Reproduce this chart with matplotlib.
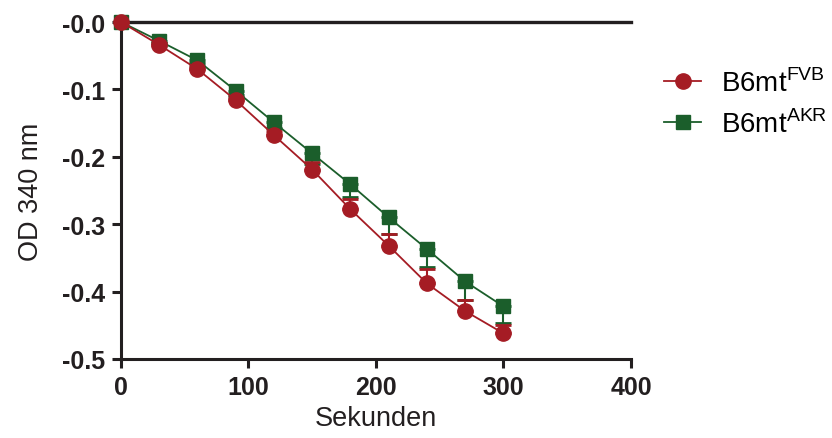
import matplotlib
matplotlib.use('Agg')
import matplotlib.pyplot as plt
from matplotlib import rcParams
import matplotlib.ticker as ticker

rcParams['font.family'] = ['Liberation Sans', 'DejaVu Sans']
rcParams['mathtext.fontset'] = 'custom'
rcParams['mathtext.rm'] = 'Liberation Sans'

# Data
seconds = [0, 30, 60, 90, 120, 150, 180, 210, 240, 270, 300]
od_fvb = [0.0, -0.034, -0.070, -0.116, -0.168, -0.219, -0.278, -0.332, -0.388, -0.429, -0.462]
err_fvb = [0.0, 0.003, 0.004, 0.005, 0.007, 0.012, 0.016, 0.017, 0.021, 0.016, 0.013]
od_akr = [0.0, -0.028, -0.057, -0.102, -0.149, -0.195, -0.241, -0.290, -0.337, -0.385, -0.422]
err_akr = [0.0, 0.003, 0.004, 0.006, 0.009, 0.015, 0.019, 0.025, 0.027, 0.027, 0.025]

labels = ['B6mt$^{\\mathregular{FVB}}$', 'B6mt$^{\\mathregular{AKR}}$']
xticks = [0, 100, 200, 300, 400]
yticks = [0.0, -0.1, -0.2, -0.3, -0.4, -0.5]

c_red = '#A51C24'
c_green = '#1B5E2B'
c_axis = '#231F20'

fig = plt.figure(figsize=(8.32, 4.39), dpi=100)
ax = fig.add_axes([0.1454, 0.18, 0.613, 0.7676])

# green error bars point down, red error bars point up
ax.errorbar(seconds, od_akr, yerr=[err_akr, [0] * len(err_akr)], fmt='none',
            ecolor=c_green, elinewidth=1.5, capsize=5.5, capthick=2, zorder=2)
ax.errorbar(seconds, od_fvb, yerr=[[0] * len(err_fvb), err_fvb], fmt='none',
            ecolor=c_red, elinewidth=1.5, capsize=5.5, capthick=2, zorder=2)

h2, = ax.plot(seconds, od_akr, color=c_green, marker='s', markersize=9.5,
              linewidth=1.3, clip_on=False, zorder=3)
h1, = ax.plot(seconds, od_fvb, color=c_red, marker='o', markersize=11,
              linewidth=1.3, clip_on=False, zorder=4)

ax.axhline(0, color=c_axis, linewidth=2.4, zorder=1, clip_on=False)

ax.set_xlim(0, 400)
ax.set_ylim(-0.5, 0)
ax.set_xticks(xticks)
ax.set_yticks(yticks)
ax.yaxis.set_major_formatter(ticker.FuncFormatter(lambda v, p: '-%.1f' % abs(v)))

for s in ['top', 'right']:
  ax.spines[s].set_visible(False)
for s in ['left', 'bottom']:
  ax.spines[s].set_linewidth(2.2)
  ax.spines[s].set_color(c_axis)

ax.tick_params(direction='out', length=6.5, width=2.2, color=c_axis,
               labelsize=18, labelcolor=c_axis)
ax.tick_params(axis='y', pad=5)
ax.tick_params(axis='x', pad=5)
for lab in ax.get_xticklabels() + ax.get_yticklabels():
  lab.set_fontweight('bold')

ax.set_xlabel('Sekunden', fontsize=19.5, color=c_axis, labelpad=4)
ax.set_ylabel('OD 340 nm', fontsize=19.5, color=c_axis, labelpad=13)

fig.legend([h1, h2], labels, loc='center left', bbox_to_anchor=(0.768, 0.763),
           frameon=False, fontsize=20, handlelength=1.35, labelspacing=0.45,
           handletextpad=0.72)

fig.savefig('out.png', dpi=100)
